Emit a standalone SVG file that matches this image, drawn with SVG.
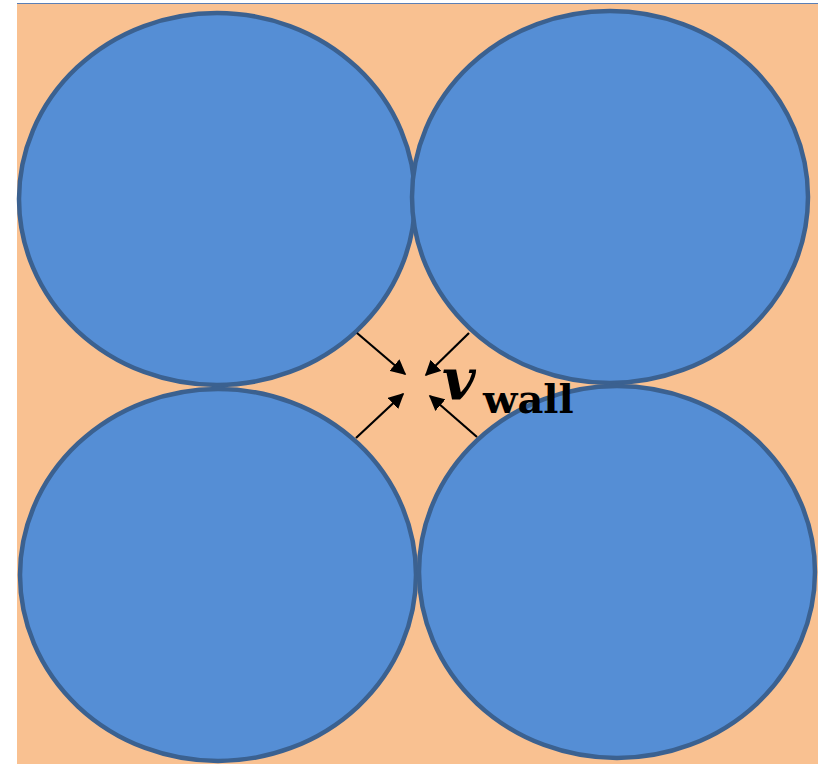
<svg xmlns="http://www.w3.org/2000/svg" width="824" height="764" viewBox="0 0 824 764">
<defs>
<style>
.ball{fill:#558ed5;stroke:#3b6190;stroke-width:4.5}
.arr{stroke:#000;stroke-width:2.2;fill:none;marker-end:url(#ah)}
</style>
<marker id="ah" viewBox="0 0 10 10" refX="9" refY="5" markerWidth="7" markerHeight="7" markerUnits="strokeWidth" orient="auto">
<path d="M0,0 L10,5 L0,10 z" fill="#000"/>
</marker>
</defs>
<rect x="0" y="0" width="824" height="764" fill="#ffffff"/>
<rect x="17" y="3" width="801" height="761" fill="#f9c191"/>
<line x1="17" y1="3.5" x2="818" y2="3.5" stroke="#5b7fb5" stroke-width="1"/>
<g id="ball-tl"><ellipse class="ball" cx="217" cy="199" rx="198" ry="186"/></g>
<g id="ball-tr"><ellipse class="ball" cx="610" cy="197" rx="198" ry="186"/></g>
<g id="ball-bl"><ellipse class="ball" cx="218" cy="575" rx="198" ry="186"/></g>
<g id="ball-br"><ellipse class="ball" cx="617" cy="572" rx="198" ry="186"/></g>
<g id="connectors">
<line class="arr" x1="357" y1="333" x2="405" y2="374"/>
<line class="arr" x1="469" y1="333" x2="426" y2="375"/>
<line class="arr" x1="356" y1="438" x2="403" y2="394"/>
<line class="arr" x1="477" y1="437" x2="430" y2="396"/>
</g>
<g id="label">
<text x="442" y="400" font-family="DejaVu Serif, serif" font-style="italic" font-weight="bold" font-size="58" fill="#000">v</text>
<text x="483" y="413" font-family="DejaVu Serif, serif" font-weight="bold" font-size="40" fill="#000">wall</text>
</g>
</svg>
